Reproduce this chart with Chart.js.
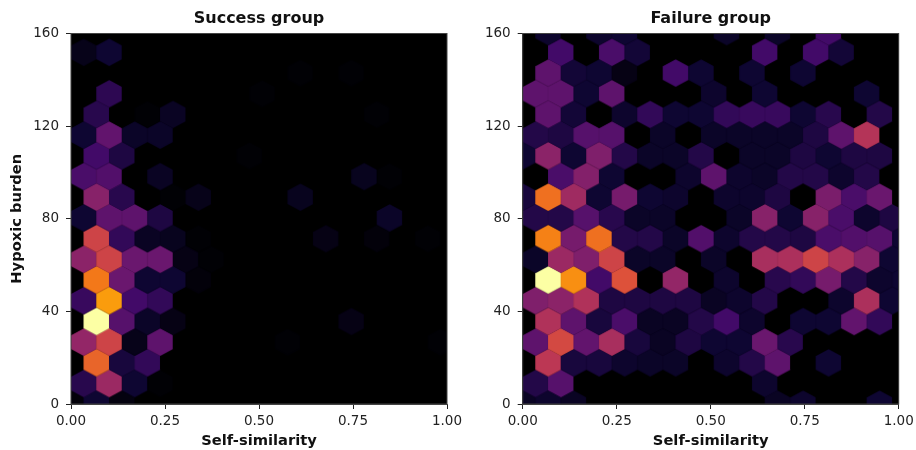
<!DOCTYPE html>
<html>
<head>
<meta charset="utf-8">
<script src="https://cdn.jsdelivr.net/npm/chart.js@4"></script>
<style>
  html, body { margin: 0; padding: 0; background: #fff; overflow: hidden; }
  canvas { position: absolute; top: 0; filter: blur(0.4px); }
</style>
</head>
<body>
<canvas id="success" style="left:0"></canvas>
<canvas id="failure" style="left:480px"></canvas>
<script>
'use strict';

var xTicks = [0, 0.25, 0.5, 0.75, 1];
var yTicks = [0, 40, 80, 120, 160];

// hexbin colour level (0-100), one list per row from the bottom up.
// even rows sit on columns 0,2,4.. and odd rows on columns 1,3,5..
var successCounts = [
  [2,10,3,0,0,0,0,0,0,0,0,0,0,0,0,0],
  [15,42,10,1,0,0,0,0,0,0,0,0,0,0,0],
  [0,65,12,17,0,0,0,0,0,0,0,0,0,0,0,0],
  [40,55,5,27,0,0,0,0,1,0,0,0,0,0,1],
  [0,100,25,8,4,0,0,0,0,0,0,4,0,0,0,0],
  [18,78,20,17,0,0,0,0,0,0,0,0,0,0,0],
  [0,70,30,10,10,2,0,0,0,0,0,0,0,0,0,0],
  [38,55,30,30,4,1,0,0,0,0,0,0,0,0,0],
  [0,55,17,7,6,1,0,0,0,0,4,0,2,0,1,0],
  [10,27,27,13,0,0,0,0,0,0,0,0,8,0,0],
  [0,37,15,0,1,5,0,0,0,6,0,0,0,0,0,0],
  [22,24,0,7,0,0,0,0,0,0,0,6,1,0,0],
  [0,20,13,0,0,0,0,1,0,0,0,0,0,0,0,0],
  [10,28,8,8,0,0,0,0,0,0,0,0,0,0,0],
  [0,15,0,1,7,0,0,0,0,0,0,0,1,0,0,0],
  [0,16,0,0,0,0,0,1,0,0,0,0,0,0,0],
  [0,0,0,0,0,0,0,0,0,1,0,1,0,0,0,0],
  [5,10,0,0,0,0,0,0,0,0,0,0,0,0,0],
  [0,0,0,0,0,0,0,0,0,0,0,0,0,0,0,0]
];

var failureCounts = [
  [7,9,7,0,0,0,0,0,0,0,7,9,0,0,10,0],
  [14,25,0,0,0,0,0,0,0,9,0,0,0,0,0],
  [0,50,12,12,9,8,8,0,9,14,27,0,10,0,0,0],
  [27,57,28,45,12,7,13,10,10,30,15,0,0,0,0],
  [0,47,27,12,22,7,7,14,20,9,0,10,10,28,17,0],
  [35,38,47,13,13,13,13,7,9,14,0,0,9,46,10],
  [0,100,75,20,60,0,40,0,9,0,15,17,33,14,9,10],
  [8,42,35,55,8,8,0,8,0,45,46,55,46,37,10],
  [0,72,33,68,14,14,8,24,9,14,14,13,22,24,25,10],
  [14,14,25,15,8,8,0,0,8,37,10,37,22,9,13],
  [12,68,43,10,33,10,9,0,9,9,13,0,34,22,30,0],
  [0,22,36,10,0,0,9,27,9,8,14,14,9,14,0],
  [10,38,10,35,14,8,8,14,0,8,8,13,10,13,13,0],
  [14,13,25,25,0,8,0,8,8,8,8,13,27,48,0],
  [0,27,11,0,9,17,10,10,17,18,18,10,15,0,14,0],
  [27,27,10,27,0,0,0,9,0,10,0,0,0,10,0],
  [0,27,11,10,4,0,20,10,0,10,0,10,0,0,0,0],
  [0,20,0,22,11,0,0,0,0,20,0,20,11,0,0],
  [0,9,0,9,10,0,0,0,8,0,8,0,20,0,0,0]
];

var binWidth = 0.0678;
var binHeight = 8.94;
var hexW = 25.5;
var hexH = 27.6;

var inferno = [
  [0, 0, 0], [14, 6, 50], [66, 10, 104], [106, 23, 110], [147, 38, 103], [188, 55, 84],
  [221, 81, 58], [243, 120, 25], [252, 165, 10], [246, 215, 70], [252, 255, 164]
];

function levelColor(v) {
  var p = Math.min(v, 99.999) / 10;
  var i = Math.floor(p);
  var t = p - i;
  var c = inferno[i].map(function (a, n) {
    return Math.round(a + (inferno[i + 1][n] - a) * t);
  });
  return 'rgb(' + c.join(',') + ')';
}

var hexCache = {};
function hexSprite(v) {
  if (hexCache[v]) return hexCache[v];
  var c = document.createElement('canvas');
  c.width = 28;
  c.height = 30;
  var g = c.getContext('2d');
  var w = hexW / 2 + 0.2, h = hexH / 2 + 0.2;
  g.translate(14, 15);
  g.fillStyle = levelColor(v);
  g.beginPath();
  g.moveTo(0, -h);
  g.lineTo(w, -h / 2);
  g.lineTo(w, h / 2);
  g.lineTo(0, h);
  g.lineTo(-w, h / 2);
  g.lineTo(-w, -h / 2);
  g.closePath();
  g.fill();
  hexCache[v] = c;
  return c;
}

function hexPoints(rows) {
  var pts = [];
  rows.forEach(function (row, j) {
    row.forEach(function (v, i) {
      var col = j % 2 ? 2 * i + 1 : 2 * i;
      pts.push({ x: col * binWidth / 2, y: j * binHeight, v: v });
    });
  });
  return pts;
}

var axesFrame = {
  id: 'axesFrame',
  beforeDatasetsDraw: function (chart) {
    var a = chart.chartArea, c = chart.ctx;
    c.save();
    c.fillStyle = '#000';
    c.fillRect(a.left, a.top, a.width, a.height);
    c.restore();
  },
  afterDraw: function (chart) {
    var a = chart.chartArea, c = chart.ctx;
    c.save();
    c.strokeStyle = '#444';
    c.lineWidth = 1;
    c.strokeRect(a.left, a.top, a.width, a.height);
    c.restore();
  }
};

function makeChart(id, title, rows, opts) {
  var el = document.getElementById(id);
  el.width = opts.width;
  el.height = 450;
  return new Chart(el, {
    type: 'scatter',
    data: {
      datasets: [{
        data: hexPoints(rows),
        clip: 0,
        pointRadius: 14,
        pointHoverRadius: 14,
        pointBorderWidth: 0,
        pointStyle: function (ctx) {
          return hexSprite(ctx.raw ? ctx.raw.v : 0);
        }
      }]
    },
    plugins: [axesFrame],
    options: {
      responsive: false,
      animation: false,
      layout: { autoPadding: false, padding: { left: 0, right: opts.right, top: 0, bottom: 0 } },
      plugins: {
        legend: { display: false },
        tooltip: { enabled: false },
        title: {
          display: true,
          text: title,
          fullSize: false,
          color: '#111',
          font: { family: 'DejaVu Sans', size: 16, weight: 'bold' },
          padding: { top: 9, bottom: 5.3 }
        }
      },
      scales: {
        x: {
          type: 'linear',
          min: 0,
          max: 1,
          afterBuildTicks: function (s) {
            s.ticks = xTicks.map(function (v) { return { value: v }; });
          },
          afterFit: function (s) {
            s.height = 46;
            s.paddingLeft = 0;
            s.paddingRight = 0;
          },
          grid: { drawOnChartArea: false, tickLength: 5, tickColor: '#222' },
          border: { color: '#444' },
          ticks: {
            color: '#222',
            padding: 4,
            maxRotation: 0,
            autoSkip: false,
            font: { family: 'DejaVu Sans', size: 13.5 },
            callback: function (v) { return v.toFixed(2); }
          },
          title: {
            display: true,
            text: 'Self-similarity',
            color: '#111',
            font: { family: 'DejaVu Sans', size: 14.7, weight: 'bold' },
            padding: { top: 0, bottom: 0 }
          }
        },
        y: {
          type: 'linear',
          min: 0,
          max: 160,
          afterBuildTicks: function (s) {
            s.ticks = yTicks.map(function (v) { return { value: v }; });
          },
          afterFit: function (s) { s.width = opts.axisWidth; },
          grid: { drawOnChartArea: false, tickLength: 5, tickColor: '#222' },
          border: { color: '#444' },
          ticks: {
            color: '#222',
            padding: 7,
            autoSkip: false,
            font: { family: 'DejaVu Sans', size: 13.5 }
          },
          title: {
            display: opts.yTitle,
            text: 'Hypoxic burden',
            color: '#111',
            font: { family: 'DejaVu Sans', size: 14.7, weight: 'bold' },
            padding: { top: 8, bottom: 0 }
          }
        }
      }
    }
  });
}

makeChart('success', 'Success group', successCounts, { width: 480, right: 33, axisWidth: 71, yTitle: true });
makeChart('failure', 'Failure group', failureCounts, { width: 436, right: 17.3, axisWidth: 42.7, yTitle: false });
</script>
</body>
</html>
